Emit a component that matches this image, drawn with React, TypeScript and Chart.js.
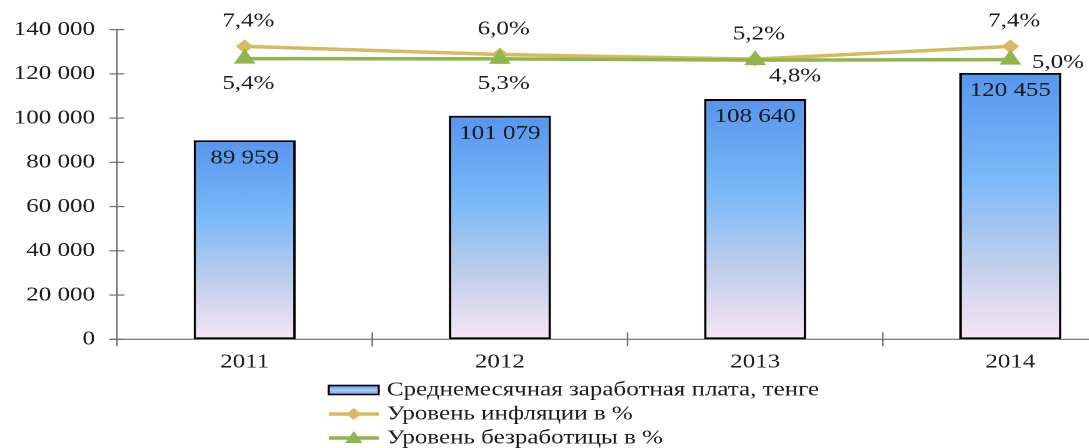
import React, { useEffect, useRef } from "react";
import { Chart, registerables } from "chart.js";

Chart.register(...registerables);

// ---- data ----
const years = ["2011", "2012", "2013", "2014"];
const salary = [89959, 101079, 108640, 120455];
const inflation = [7.4, 6.0, 5.2, 7.4];
const unemployment = [5.4, 5.3, 4.8, 5.0];
const inflationLabels = ["7,4%", "6,0%", "5,2%", "7,4%"];
const unemploymentLabels = ["5,4%", "5,3%", "4,8%", "5,0%"];
const legendLabels = [
  "Среднемесячная заработная плата, тенге",
  "Уровень инфляции в %",
  "Уровень безработицы в %",
];
// label placement for unemployment values
const unempPlacement = ["below", "below", "belowRight", "right"];

// ---- styles ----
const STRETCH = 1.25;
const CW = 940;
const CH = 448;
const FONT_FAMILY = '"Liberation Serif", "Times New Roman", serif';
const FONT = `20px ${FONT_FAMILY}`;
const TEXT = "#1a1a1a";
const AXIS = "#6e6e6e";
const GOLD = "#D6BA62";
const GREEN = "#8FB54E";

const fmt = (v: number) => String(v).replace(/\B(?=(\d{3})+(?!\d))/g, " ");

function barGradient(c: CanvasRenderingContext2D, top: number, bottom: number) {
  const g = c.createLinearGradient(0, top, 0, bottom);
  g.addColorStop(0, "#5796EE");
  g.addColorStop(0.4, "#7CBAF9");
  g.addColorStop(0.72, "#C2CFEC");
  g.addColorStop(1, "#F8E5F6");
  return g;
}

const customPlugin = {
  id: "customDraw",
  beforeDatasetsDraw(chart: any) {
    const c: CanvasRenderingContext2D = chart.ctx;
    const x = chart.scales.x;
    const y = chart.scales.y;
    const left = chart.chartArea.left;
    const bottom = chart.chartArea.bottom;
    const top = chart.chartArea.top;
    c.save();
    c.strokeStyle = AXIS;
    c.lineWidth = 1.2;
    // y axis line
    c.beginPath();
    c.moveTo(left, top);
    c.lineTo(left, bottom + 7);
    c.stroke();
    // x axis line
    c.beginPath();
    c.moveTo(left - 6, bottom);
    c.lineTo(chart.width, bottom);
    c.stroke();
    // y crossing ticks
    y.ticks.forEach((_t: any, i: number) => {
      const py = y.getPixelForTick(i);
      c.beginPath();
      c.moveTo(left - 6, py);
      c.lineTo(left + 6, py);
      c.stroke();
    });
    // x crossing ticks at category boundaries
    const n = years.length;
    for (let i = 1; i <= n; i++) {
      const px = x.left + (i * x.width) / n;
      c.beginPath();
      c.moveTo(px, bottom - 7);
      c.lineTo(px, bottom + 7);
      c.stroke();
    }
    c.restore();
  },
  afterDatasetsDraw(chart: any) {
    const c: CanvasRenderingContext2D = chart.ctx;
    c.save();
    c.font = FONT;
    c.fillStyle = TEXT;
    c.textBaseline = "middle";
    c.textAlign = "center";
    // bar values
    const m0 = chart.getDatasetMeta(0);
    m0.data.forEach((el: any, i: number) => {
      c.fillText(fmt(salary[i]), el.x, el.y + 18);
    });
    // inflation labels
    const m1 = chart.getDatasetMeta(1);
    m1.data.forEach((el: any, i: number) => {
      c.fillText(inflationLabels[i], el.x + 3, el.y - 25);
    });
    // unemployment labels
    const m2 = chart.getDatasetMeta(2);
    m2.data.forEach((el: any, i: number) => {
      const p = unempPlacement[i];
      if (p === "below") c.fillText(unemploymentLabels[i], el.x + 3, el.y + 25);
      else if (p === "belowRight") c.fillText(unemploymentLabels[i], el.x + 32, el.y + 16);
      else c.fillText(unemploymentLabels[i], el.x + 38, el.y + 3);
    });
    c.restore();
  },
  afterDraw(chart: any) {
    const c: CanvasRenderingContext2D = chart.ctx;
    const lx = 263;
    const bw = 40;
    const rows = [390, 414, 438];
    c.save();
    // row 1: bar swatch
    const g = c.createLinearGradient(0, rows[0] - 4.5, 0, rows[0] + 4.5);
    g.addColorStop(0, "#5A98EE");
    g.addColorStop(0.5, "#A9CCF6");
    g.addColorStop(1, "#6FA8F2");
    c.fillStyle = g;
    c.fillRect(lx, rows[0] - 4.5, bw, 9);
    c.strokeStyle = "#000";
    c.lineWidth = 1.6;
    c.strokeRect(lx, rows[0] - 4.5, bw, 9);
    // row 2: inflation line
    c.strokeStyle = GOLD;
    c.lineWidth = 3.5;
    c.beginPath();
    c.moveTo(lx, rows[1]);
    c.lineTo(lx + bw, rows[1]);
    c.stroke();
    c.fillStyle = GOLD;
    c.beginPath();
    const cx = lx + bw / 2;
    c.moveTo(cx, rows[1] - 6);
    c.lineTo(cx + 6, rows[1]);
    c.lineTo(cx, rows[1] + 6);
    c.lineTo(cx - 6, rows[1]);
    c.closePath();
    c.fill();
    // row 3: unemployment line
    c.strokeStyle = GREEN;
    c.beginPath();
    c.moveTo(lx, rows[2]);
    c.lineTo(lx + bw, rows[2]);
    c.stroke();
    c.fillStyle = GREEN;
    c.beginPath();
    c.moveTo(cx, rows[2] - 7);
    c.lineTo(cx + 7, rows[2] + 5);
    c.lineTo(cx - 7, rows[2] + 5);
    c.closePath();
    c.fill();
    // texts
    c.font = FONT;
    c.fillStyle = TEXT;
    c.textBaseline = "middle";
    c.textAlign = "left";
    legendLabels.forEach((t, i) => c.fillText(t, lx + bw + 6.5, rows[i]));
    c.restore();
  },
};

export default function App() {
  const ref = useRef<HTMLCanvasElement | null>(null);
  useEffect(() => {
    if (!ref.current) return;
    const chart = new Chart(ref.current, {
      type: "bar",
      data: {
        labels: years,
        datasets: [
          {
            type: "bar",
            label: legendLabels[0],
            data: salary,
            yAxisID: "y",
            order: 3,
            backgroundColor: (ctx: any) => {
              const ch = ctx.chart;
              if (!ch.chartArea) return "#7CBAF9";
              const ys = ch.scales.y;
              const v = salary[ctx.dataIndex] ?? 0;
              return barGradient(ch.ctx, ys.getPixelForValue(v), ys.getPixelForValue(0));
            },
            borderColor: "#000",
            borderWidth: 2,
            borderSkipped: false,
            barPercentage: 0.4,
            categoryPercentage: 1,
          },
          {
            type: "line",
            label: legendLabels[1],
            data: inflation,
            yAxisID: "yInf",
            order: 2,
            borderColor: GOLD,
            backgroundColor: GOLD,
            borderWidth: 3.5,
            pointStyle: "rectRot",
            pointRadius: 7,
            pointBorderWidth: 0,
            tension: 0,
          },
          {
            type: "line",
            label: legendLabels[2],
            data: unemployment,
            yAxisID: "yUn",
            order: 1,
            borderColor: GREEN,
            backgroundColor: GREEN,
            borderWidth: 3.5,
            pointStyle: "triangle",
            pointRadius: 10,
            pointBorderWidth: 0,
            tension: 0,
          },
        ],
      },
      options: {
        responsive: false,
        animation: false,
        devicePixelRatio: 2,
        layout: { padding: { top: 25, right: 29.6, bottom: 0, left: 0 } },
        plugins: {
          legend: { display: false },
          tooltip: { enabled: false },
        },
        scales: {
          x: {
            offset: true,
            grid: { display: false, drawTicks: false },
            border: { display: false },
            ticks: {
              padding: 11,
              maxRotation: 0,
              color: TEXT,
              font: { family: FONT_FAMILY, size: 20 },
            },
            afterFit: (s: any) => {
              s.height = 108.7;
            },
          },
          y: {
            min: 0,
            max: 140000,
            grid: { display: false, drawTicks: false },
            border: { display: false },
            ticks: {
              stepSize: 20000,
              padding: 17.6,
              color: TEXT,
              font: { family: FONT_FAMILY, size: 20 },
              callback: (v: any) => fmt(Number(v)),
            },
            afterFit: (s: any) => {
              s.width = 93.6;
            },
          },
          yInf: {
            display: false,
            min: -43.0,
            max: 10.28,
          },
          yUn: {
            display: false,
            min: -108.5,
            max: 17.2,
          },
        },
      },
      plugins: [customPlugin],
    } as any);
    return () => chart.destroy();
  }, []);

  return (
    <div
      style={{
        position: "fixed",
        left: 0,
        top: 0,
        width: 1089,
        height: 448,
        overflow: "hidden",
        background: "#fff",
      }}
    >
      <div
        style={{
          width: CW,
          height: CH,
          transform: `scaleX(${STRETCH})`,
          transformOrigin: "0 0",
        }}
      >
        <canvas
          ref={ref}
          width={CW}
          height={CH}
          style={{ display: "block", width: CW, height: CH }}
        />
      </div>
    </div>
  );
}
